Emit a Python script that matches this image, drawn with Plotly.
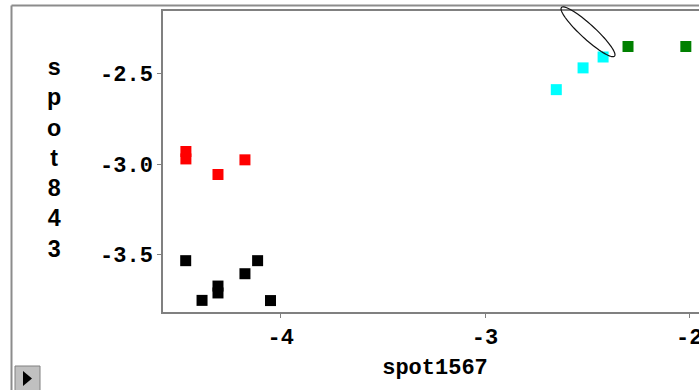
import numpy as np
import plotly.graph_objects as go

# ---- data ----
black_x = [-4.465, -4.385, -4.307, -4.307, -4.175, -4.113, -4.050]
black_y = [-3.533, -3.752, -3.673, -3.711, -3.605, -3.533, -3.753]
red_x = [-4.464, -4.464, -4.307, -4.175]
red_y = [-2.931, -2.972, -3.058, -2.977]
cyan_x = [-2.651, -2.520, -2.422]
cyan_y = [-2.590, -2.470, -2.410]
green_x = [-2.300, -2.017]
green_y = [-2.352, -2.352]

x_ticks = [-4, -3, -2]
x_ticklabels = ["-4", "-3", "-2"]
y_ticks = [-3.5, -3.0, -2.5]
y_ticklabels = ["-3.5", "-3.0", "-2.5"]

x_title = "spot1567"
y_title = "spot843"

# ---- layout geometry ----
# the figure is slightly wider than the 699px window; the right part is cut off,
# like in the reference screenshot
W, H = 707, 390
L, R, T, B = 163, 0, 11, 78
PW = W - L - R
PH = H - T - B


def px(x):
    return (x - L) / PW


def py(y):
    return (H - B - y) / PH


FONT = "Liberation Mono"
SANS = "Liberation Sans"

fig = go.Figure()
series = [
    (black_x, black_y, "#000000"),
    (red_x, red_y, "#ff0000"),
    (cyan_x, cyan_y, "#00ffff"),
    (green_x, green_y, "#008000"),
]
for xs, ys, c in series:
    fig.add_trace(go.Scatter(
        x=xs, y=ys, mode="markers",
        marker=dict(symbol="square", size=11, color=c, line=dict(width=0)),
        showlegend=False, hoverinfo="x+y",
    ))

shapes = []
# outer frame (left + top)
shapes.append(dict(type="line", xref="paper", yref="paper",
                   x0=px(11.5), x1=px(11.5), y0=py(5.5), y1=py(H + 5),
                   line=dict(color="#8c8c8c", width=2)))
shapes.append(dict(type="line", xref="paper", yref="paper",
                   x0=px(11.5), x1=px(W + 5), y0=py(5.5), y1=py(5.5),
                   line=dict(color="#8c8c8c", width=2)))
# button at bottom left
shapes.append(dict(type="rect", xref="paper", yref="paper",
                   x0=px(15), x1=px(40), y0=py(366), y1=py(H + 3),
                   fillcolor="#c0c0c0", line=dict(color="#808080", width=1)))
shapes.append(dict(type="path", xref="paper", yref="paper",
                   path="M {:.5f} {:.5f} L {:.5f} {:.5f} L {:.5f} {:.5f} Z".format(
                       px(23), py(371), px(23), py(386), px(32), py(378.5)),
                   fillcolor="#000000", line=dict(width=0)))
# selection ellipse (decoration)
cx, cy, a, b, ang = 588.0, 31.8, 36.0, 7.2, np.deg2rad(42.5)
t = np.linspace(0, 2 * np.pi, 80)
ex = cx + a * np.cos(t) * np.cos(ang) - b * np.sin(t) * np.sin(ang)
ey = cy + a * np.cos(t) * np.sin(ang) + b * np.sin(t) * np.cos(ang)
path = "M " + " L ".join("{:.5f} {:.5f}".format(px(u), py(v)) for u, v in zip(ex, ey)) + " Z"
shapes.append(dict(type="path", xref="paper", yref="paper", path=path,
                   line=dict(color="#111111", width=1.2)))

annotations = [
    dict(text="<br>".join(list(y_title)), xref="paper", yref="paper",
         x=px(54), y=py(158), xanchor="center", yanchor="middle",
         showarrow=False, align="center",
         font=dict(family=SANS, size=23.3, color="#000000", weight="bold")),
]

fig.update_layout(
    width=W, height=H,
    margin=dict(l=L, r=R, t=T, b=B, pad=0, autoexpand=False),
    paper_bgcolor="#ffffff", plot_bgcolor="#ffffff",
    shapes=shapes, annotations=annotations,
    xaxis=dict(
        range=[-4 - (280.7 - L) / 204.3, -4 + (W - 280.7) / 204.3],
        tickvals=x_ticks, ticktext=x_ticklabels,
        automargin=False,
        showgrid=False, zeroline=False,
        showline=True, mirror=True, linecolor="#808080", linewidth=1.5,
        ticks="outside", ticklen=4, tickcolor="#808080", tickwidth=1,
        tickfont=dict(family=FONT, size=22, color="#000000", weight="bold"),
        title=dict(text=x_title, standoff=8,
                   font=dict(family=FONT, size=22, color="#000000", weight="bold")),
    ),
    yaxis=dict(
        range=[-3.5 - (312 - 254.7) / 181.3, -2.5 + (73.3 - 11) / 181.3],
        tickvals=y_ticks, ticktext=y_ticklabels,
        automargin=False,
        showgrid=False, zeroline=False,
        showline=True, mirror=False, linecolor="#808080", linewidth=1.5,
        ticks="outside", ticklen=4, tickcolor="#808080", tickwidth=1,
        tickfont=dict(family=FONT, size=22, color="#000000", weight="bold"),
    ),
)

fig.write_html("out.html", config={"displayModeBar": False},
               post_script="document.body.style.margin='0px';document.body.style.overflow='hidden';")
